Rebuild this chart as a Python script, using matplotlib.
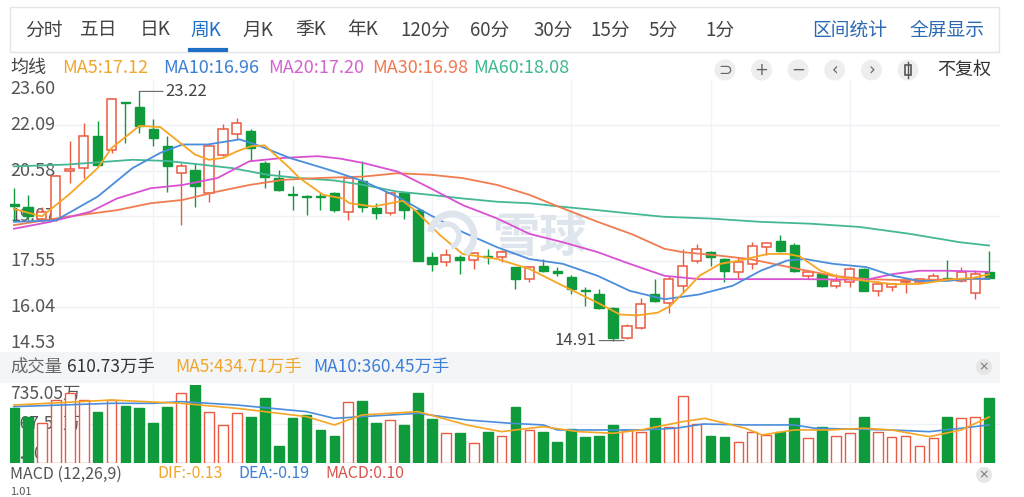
import matplotlib
matplotlib.use("Agg")
import matplotlib.pyplot as plt
import matplotlib.patches as mpatches
import numpy as np

plt.rcParams['font.family'] = ['Noto Sans CJK SC', 'DejaVu Sans']

# 周K 数据
opens = [19.45, 19.38, 18.95, 18.98, 20.55, 20.66, 21.73, 21.28, 22.88, 22.71,
         21.95, 21.39, 20.50, 20.61, 19.82, 21.11, 21.79, 21.90, 20.83, 20.33,
         19.80, 19.73, 19.73, 19.82, 19.21, 20.22, 19.32, 19.15, 19.82, 19.26,
         17.69, 17.52, 17.70, 17.60, 17.72, 17.69, 17.35, 16.96, 17.41, 17.24,
         17.02, 16.60, 16.45, 16.00, 15.00, 15.33, 16.45, 16.17, 16.74, 17.58,
         17.86, 17.63, 17.19, 17.47, 18.02, 18.22, 18.11, 17.07, 17.13, 16.74,
         16.85, 17.30, 16.57, 16.71, 16.86, 16.88, 16.90, 17.00, 16.90, 16.51,
         17.19]
highs = [20.00, 19.77, 19.35, 20.42, 21.55, 22.18, 22.24, 23.00, 22.88, 23.22,
         22.29, 21.73, 20.83, 20.83, 21.42, 22.12, 22.32, 21.95, 20.90, 20.61,
         20.05, 19.75, 19.85, 19.85, 20.38, 20.89, 19.49, 19.88, 19.85, 19.30,
         17.86, 17.97, 17.75, 17.88, 17.95, 17.93, 17.38, 17.40, 17.63, 17.35,
         17.10, 16.70, 16.62, 16.02, 15.45, 16.34, 16.96, 17.05, 17.97, 18.14,
         17.90, 17.68, 17.70, 18.20, 18.19, 18.42, 18.15, 17.22, 17.15, 17.13,
         17.35, 17.32, 16.90, 16.80, 16.98, 17.00, 17.15, 17.60, 17.35, 17.25,
         17.91]
lows = [18.90, 18.92, 18.85, 18.90, 20.15, 20.33, 20.70, 21.15, 21.50, 21.84,
        21.40, 19.88, 18.76, 19.37, 19.54, 21.05, 21.62, 20.89, 19.99, 19.90,
        19.26, 19.09, 19.26, 19.20, 18.92, 19.21, 18.98, 19.10, 18.98, 17.55,
        17.24, 17.41, 17.13, 17.30, 17.47, 17.52, 16.62, 16.85, 17.20, 17.05,
        16.45, 16.06, 15.98, 14.91, 14.95, 15.30, 16.20, 15.84, 16.51, 17.50,
        17.41, 16.85, 17.00, 17.30, 17.75, 17.85, 17.20, 16.97, 16.70, 16.68,
        16.70, 16.55, 16.40, 16.55, 16.50, 16.85, 16.88, 16.93, 16.85, 16.29,
        16.95]
closes = [19.40, 19.05, 19.20, 20.39, 20.62, 21.73, 20.78, 22.96, 22.82, 22.07,
          21.67, 20.72, 20.72, 20.05, 21.39, 21.95, 22.18, 21.34, 20.38, 19.93,
          19.75, 19.69, 19.70, 19.26, 20.33, 19.37, 19.15, 19.82, 19.26, 17.58,
          17.47, 17.75, 17.60, 17.83, 17.69, 17.86, 16.96, 17.35, 17.24, 17.15,
          16.62, 16.55, 16.00, 15.00, 15.39, 16.12, 16.23, 16.96, 17.41, 17.97,
          17.69, 17.24, 17.52, 18.06, 18.17, 17.91, 17.24, 17.19, 16.74, 16.90,
          17.30, 16.57, 16.79, 16.79, 16.90, 16.95, 17.07, 16.96, 17.19, 17.13,
          17.00]

# 成交量（万手）
volume = [516, 438, 376, 594, 657, 594, 485, 594, 538, 516,
          376, 526, 657, 735.05, 485, 360, 469, 438, 610, 162,
          422, 454, 313, 256, 579, 588, 376, 407, 360, 657,
          416, 282, 282, 188, 297, 256, 526, 313, 297, 203,
          319, 250, 256, 360, 313, 297, 422, 344, 632, 369,
          256, 250, 203, 297, 266, 297, 422, 235, 338, 256,
          288, 438, 297, 250, 256, 162, 235, 438, 422, 438, 610.73]

# 均线（按图上读数取点）
ma5_x = [0, 2, 4, 6, 7, 9, 10.5, 13, 14, 15, 16, 17, 18, 19.8, 20.5, 22.2, 23.6, 24.1,
         25.8, 27.9, 28.9, 30.6, 32.2, 34.7, 37, 39.4, 41.9, 43.5, 44.7, 46.2, 47.1,
         48.3, 49.2, 50.7, 52.1, 54.1, 55.5, 56.4, 57.9, 59.3, 61.2, 63.1, 65, 67, 68.8, 70]
ma5_y = [19.30, 19.05, 19.80, 20.66, 21.33, 22.07, 22.03, 21.11, 20.94, 21.00, 21.22,
         21.39, 21.42, 20.66, 20.33, 19.77, 19.65, 19.49, 19.38, 19.57, 19.21, 18.42,
         17.80, 17.63, 17.30, 16.74, 16.17, 15.78, 15.75, 15.84, 16.06, 16.62, 17.07,
         17.47, 17.58, 17.80, 17.80, 17.72, 17.24, 17.02, 16.90, 16.79, 16.80, 16.94,
         17.00, 17.12]
ma10_x = [0, 3, 6, 8.5, 10.5, 12.1, 13.9, 16.2, 17.7, 19.8, 21.8, 23, 25.1, 27.5, 29.9,
          32.2, 34.7, 37, 39.4, 41.9, 44.2, 46.7, 49.2, 51.6, 53.6, 55.5, 56.8, 58.8,
          61.2, 63.1, 65, 67, 68.8, 70]
ma10_y = [18.87, 18.92, 19.71, 20.66, 21.17, 21.45, 21.45, 21.62, 21.39, 21.00, 20.72,
          20.55, 20.22, 19.71, 19.09, 18.53, 18.02, 17.63, 17.47, 17.07, 16.57, 16.29,
          16.45, 16.74, 17.24, 17.58, 17.63, 17.47, 17.36, 17.07, 16.90, 16.90, 16.98, 16.96]
ma20_x = [0, 2.6, 5.5, 7.4, 9.8, 12.1, 14.6, 16.9, 19.3, 21.8, 23.4, 25.1, 27.5, 29.9,
          32.2, 34.7, 37, 39.4, 41.9, 44.2, 46.7, 49.2, 56.4, 61.2, 63.1, 65, 67, 70]
ma20_y = [18.64, 18.87, 19.21, 19.65, 19.99, 20.10, 20.33, 20.89, 21.00, 21.06, 20.98,
          20.83, 20.55, 19.99, 19.43, 18.98, 18.47, 18.19, 17.86, 17.47, 17.07, 16.96,
          16.96, 16.94, 17.13, 17.24, 17.24, 17.20]
ma30_x = [0, 3.8, 7.4, 9.8, 12.1, 14.6, 16.9, 19.3, 21.8, 25.1, 27.5, 29.9, 32.2, 34.7,
          37, 39.4, 41.9, 44.4, 46.7, 48, 50.5, 52.8, 56.4, 58.8, 61.2, 63.6, 66, 70]
ma30_y = [18.76, 19.04, 19.26, 19.49, 19.60, 19.88, 20.10, 20.27, 20.33, 20.38, 20.49,
          20.44, 20.33, 20.10, 19.77, 19.32, 18.87, 18.45, 17.97, 17.86, 17.75, 17.63,
          17.29, 17.07, 16.96, 16.93, 16.94, 16.98]
ma60_x = [0, 3.8, 8.5, 11, 13.4, 15.7, 18.2, 20.5, 23, 25.1, 27.5, 29.9, 32.2, 34.7, 37,
          39.4, 41.9, 44.2, 46.6, 50, 53.6, 57.1, 60.7, 64.3, 67.9, 70]
ma60_y = [20.72, 20.78, 20.94, 20.90, 20.78, 20.66, 20.44, 20.33, 20.25, 20.10, 19.88,
          19.77, 19.65, 19.54, 19.49, 19.37, 19.26, 19.15, 19.04, 18.98, 18.87, 18.81,
          18.70, 18.47, 18.19, 18.08]

# 成交量均线
vma5_x = [0, 7, 12, 16, 18, 21, 23, 25, 29, 32.5, 35, 36, 38, 40.5, 43, 45, 48, 49.6,
          52.5, 53.7, 56, 58.5, 61, 63, 65.7, 68, 70]
vma5_y = [547, 594, 563, 516, 485, 438, 360, 454, 485, 360, 297, 313, 344, 297, 282, 313,
          391, 422, 329, 266, 313, 313, 329, 313, 250, 313, 434.71]
vma10_x = [0, 7, 10, 12, 16, 21, 23, 25, 29, 32.5, 35.6, 38, 39, 43, 45, 47.5, 49.5,
           52.5, 56, 57.5, 60.5, 63, 65.7, 68, 70]
vma10_y = [532, 563, 563, 579, 547, 485, 422, 438, 469, 407, 376, 360, 313, 313, 313, 329,
           369, 360, 360, 329, 320, 313, 297, 329, 360.45]

price_ticks = [23.60, 22.09, 20.58, 19.07, 17.55, 16.04, 14.53]

RED = '#ea5a40'
GREEN = '#0f9b3b'
C_MA5, C_MA10, C_MA20, C_MA30, C_MA60 = '#f5a623', '#4a8ddb', '#d951d2', '#f07c4f', '#44b894'

W, H = 1024, 497
fig = plt.figure(figsize=(W / 100, H / 100), dpi=100)
fig.patch.set_facecolor('white')


def px(x, y):
    return x / W, 1 - y / H


def ftext(x, y, s, **kw):
    kw.setdefault('va', 'center')
    kw.setdefault('ha', 'left')
    fig.text(*px(x, y), s, **kw)


# ---- 顶部标签栏 ----
fig.patches.append(mpatches.Rectangle(px(10, 52), 989 / W, 45 / H, transform=fig.transFigure,
                                      facecolor='white', edgecolor='#e2e5e9', lw=1))
tabs = [('分时', 25), ('五日', 80), ('日K', 140), ('周K', 190), ('月K', 242), ('季K', 295),
        ('年K', 347), ('120分', 400), ('60分', 470), ('30分', 533), ('15分', 590),
        ('5分', 648), ('1分', 705)]
for name, x in tabs:
    ftext(x, 30, name, fontsize=13.5, color='#1f6fc6' if name == '周K' else '#444444')
fig.lines.append(plt.Line2D([190 / W, 226 / W], [1 - 50 / H, 1 - 50 / H], transform=fig.transFigure,
                            color='#1f6fc6', lw=3))
ftext(812, 30, '区间统计', fontsize=13.5, color='#2b69b3')
ftext(910, 30, '全屏显示', fontsize=13.5, color='#2b69b3')

# ---- 均线标题 ----
ftext(10, 68, '均线', fontsize=13, color='#444444')
ma_labels = [('MA5:17.12', 62, '#f0a62c'), ('MA10:16.96', 163, '#3d7fd6'),
             ('MA20:17.20', 268, '#d462d0'), ('MA30:16.98', 372, '#f07850'),
             ('MA60:18.08', 473, '#3fb88e')]
for s, x, c in ma_labels:
    ftext(x, 68, s, fontsize=13, color=c)

icons = ['⊃', '+', '−', '‹', '›', '']
for k, sym in enumerate(icons):
    cx = 725 + k * 36.6
    fig.patches.append(mpatches.Ellipse(px(cx, 70), 21 / W, 21 / H, transform=fig.transFigure,
                                        facecolor='#eeeeee', edgecolor='none'))
    if sym:
        ftext(cx, 70, sym, fontsize=12, color='#666666', ha='center', family='DejaVu Sans')
fig.patches.append(mpatches.Rectangle(px(905, 75), 6 / W, 10 / H, transform=fig.transFigure,
                                      facecolor='none', edgecolor='#555555', lw=1.2))
fig.lines.append(plt.Line2D([908 / W, 908 / W], [1 - 78 / H, 1 - 62 / H], transform=fig.transFigure,
                            color='#555555', lw=1))
ftext(937, 70, '不复权', fontsize=13, color='#333333')

# ---- 成交量/MACD 标题栏 ----
fig.patches.append(mpatches.Rectangle(px(0, 383), 1000 / W, 31 / H, transform=fig.transFigure,
                                      facecolor='#f3f5f7', edgecolor='none'))
ftext(10, 367, '成交量', fontsize=12.5, color='#666666')
ftext(67, 367, '610.73万手', fontsize=12.5, color='#333333')
ftext(175, 367, 'MA5:434.71万手', fontsize=12.5, color='#f0a62c')
ftext(313, 367, 'MA10:360.45万手', fontsize=12.5, color='#3d7fd6')
ftext(10, 474, 'MACD (12,26,9)', fontsize=11.5, color='#555555')
ftext(157, 474, 'DIF:-0.13', fontsize=11.5, color='#f0a62c')
ftext(238, 474, 'DEA:-0.19', fontsize=11.5, color='#3d7fd6')
ftext(325, 474, 'MACD:0.10', fontsize=11.5, color='#d9534f')
ftext(10, 497, '1.01', fontsize=8, color='#555555', va='bottom')
for yy in (367, 475):
    fig.patches.append(mpatches.Ellipse(px(984, yy), 16 / W, 16 / H, transform=fig.transFigure,
                                        facecolor='#e6e6e6', edgecolor='none'))
    ftext(984, yy, '×', fontsize=9, color='#777777', ha='center', family='DejaVu Sans')

# ---- K线图 ----
o = np.array(opens)
h = np.array(highs)
l = np.array(lows)
c = np.array(closes)
idx = np.arange(len(o))
up = c >= o

ax = fig.add_axes([10 / W, 1 - 352 / H, 990 / W, 272 / H])
ax.set_xlim(-0.287, 70.78)
ax.set_ylim(14.53, 23.60)
ax.axis('off')
for p in price_ticks[1:-1]:
    ax.axhline(p, color='#eef1f5', lw=1, zorder=0)
for v in range(10, 70, 10):
    ax.axvline(v, color='#f1f3f6', lw=1, zorder=0)

tr = ax.get_yaxis_transform()
for p in price_ticks:
    va = 'top' if p == price_ticks[0] else ('bottom' if p == price_ticks[-1] else 'center')
    ax.text(0.0, p, f'{p:.2f}', transform=tr, fontsize=13, color='#555555',
            va=va, ha='left', zorder=1)

# 水印
ax.text(0.535, 0.42, '雪球', transform=ax.transAxes, fontsize=34, fontweight='bold',
        color='#dfe5ed', ha='center', va='center', zorder=0.5)
fig.patches.append(mpatches.Arc(px(452, 236), 44 / W, 44 / H, theta1=-70, theta2=160,
                                transform=fig.transFigure, color='#dfe5ed', lw=5, zorder=0.5))
fig.patches.append(mpatches.Arc(px(447, 236), 24 / W, 24 / H, theta1=-80, theta2=120,
                                transform=fig.transFigure, color='#dfe5ed', lw=4, zorder=0.5))

wick_col = np.where(up, RED, GREEN)
ax.vlines(idx, l, h, colors=wick_col, lw=1, zorder=2)
body_b = np.minimum(o, c)
body_h = np.maximum(np.abs(c - o), 0.025)
ax.bar(idx[up], body_h[up], bottom=body_b[up], width=0.66, facecolor='white',
       edgecolor=RED, lw=1.1, zorder=3)
ax.bar(idx[~up], body_h[~up], bottom=body_b[~up], width=0.66, facecolor=GREEN,
       edgecolor=GREEN, lw=1, zorder=3)

for xs, ys, col in [(ma60_x, ma60_y, C_MA60), (ma30_x, ma30_y, C_MA30),
                    (ma20_x, ma20_y, C_MA20), (ma10_x, ma10_y, C_MA10),
                    (ma5_x, ma5_y, C_MA5)]:
    ax.plot(xs, ys, color=col, lw=1.3, zorder=4, solid_joinstyle='round')

hi_i = int(np.argmax(h))
lo_i = int(np.argmin(l))
ax.annotate(f'{h[hi_i]:.2f}', xy=(hi_i, h[hi_i]), xytext=(19, 0), textcoords='offset points',
            fontsize=12, color='#444444', va='center', ha='left', zorder=5,
            arrowprops=dict(arrowstyle='-', color='#666666', lw=0.8, shrinkA=0, shrinkB=0))
ax.annotate(f'{l[lo_i]:.2f}', xy=(lo_i + 0.8, l[lo_i]), xytext=(-20, 0), textcoords='offset points',
            fontsize=12, color='#444444', va='center', ha='right', zorder=5,
            arrowprops=dict(arrowstyle='-', color='#666666', lw=0.8, shrinkA=0, shrinkB=0))

# ---- 成交量 ----
vol = np.array(volume)
axv = fig.add_axes([10 / W, 1 - 463.3 / H, 990 / W, 78.3 / H])
axv.set_xlim(-0.287, 70.78)
axv.set_ylim(0, 735.05)
axv.axis('off')
axv.axhline(367.52, color='#eef1f5', lw=1, zorder=0)
for v in range(10, 70, 10):
    axv.axvline(v, color='#f1f3f6', lw=1, zorder=0)
trv = axv.get_yaxis_transform()
axv.text(0.0, 735.05, '735.05万', transform=trv, fontsize=12.5, color='#555555', va='top', zorder=1)
axv.text(0.0, 367.52, '367.52万', transform=trv, fontsize=12.5, color='#555555', va='center', zorder=1)
axv.text(0.0, 0, '0.00', transform=trv, fontsize=12.5, color='#555555', va='bottom', zorder=1)
axv.bar(idx[up], vol[up], width=0.7, facecolor='white', edgecolor=RED, lw=1, zorder=2)
axv.bar(idx[~up], vol[~up], width=0.7, facecolor=GREEN, edgecolor=GREEN, lw=1, zorder=2)
axv.plot(vma10_x, vma10_y, color=C_MA10, lw=1.2, zorder=3)
axv.plot(vma5_x, vma5_y, color=C_MA5, lw=1.2, zorder=3)

fig.savefig('out.png', dpi=100, facecolor='white')
